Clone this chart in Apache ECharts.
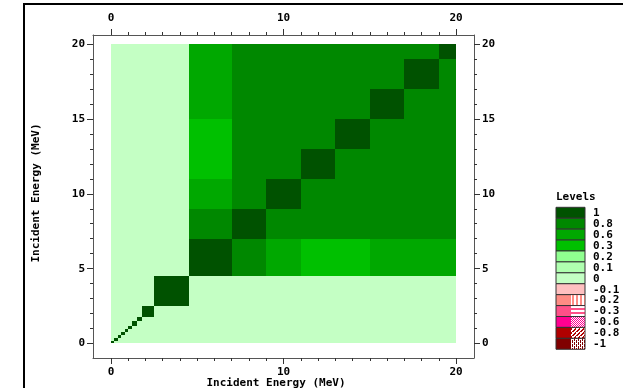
<!DOCTYPE html>
<html><head><meta charset="utf-8">
<script src="https://cdn.jsdelivr.net/npm/echarts@6/dist/echarts.min.js"></script>
<style>html,body{margin:0;padding:0;background:#fff}#c{width:623px;height:388px}</style>
</head><body><div id="c"></div>
<script>
// Energy bin edges (MeV), same for both axes
const energyEdges = [0, 0.2, 0.4, 0.6, 0.8, 1.0, 1.2, 1.5, 1.8, 2.5, 4.5, 7, 9, 11, 13, 15, 17, 19, 20];
// Correlation matrix: rows = y bins (incident energy), cols = x bins
const corrMatrix = [
  [1,0,0,0,0,0,0,0,0,0, 0,0,0,0,0,0,0,0],
  [0,1,0,0,0,0,0,0,0,0, 0,0,0,0,0,0,0,0],
  [0,0,1,0,0,0,0,0,0,0, 0,0,0,0,0,0,0,0],
  [0,0,0,1,0,0,0,0,0,0, 0,0,0,0,0,0,0,0],
  [0,0,0,0,1,0,0,0,0,0, 0,0,0,0,0,0,0,0],
  [0,0,0,0,0,1,0,0,0,0, 0,0,0,0,0,0,0,0],
  [0,0,0,0,0,0,1,0,0,0, 0,0,0,0,0,0,0,0],
  [0,0,0,0,0,0,0,1,0,0, 0,0,0,0,0,0,0,0],
  [0,0,0,0,0,0,0,0,1,0, 0,0,0,0,0,0,0,0],
  [0,0,0,0,0,0,0,0,0,1, 0,0,0,0,0,0,0,0],
  [0,0,0,0,0,0,0,0,0,0, 1,0.85,0.7,0.45,0.45,0.7,0.7,0.7],
  [0,0,0,0,0,0,0,0,0,0, 0.85,1,0.85,0.85,0.85,0.85,0.85,0.85],
  [0,0,0,0,0,0,0,0,0,0, 0.7,0.85,1,0.85,0.85,0.85,0.85,0.85],
  [0,0,0,0,0,0,0,0,0,0, 0.45,0.85,0.85,1,0.85,0.85,0.85,0.85],
  [0,0,0,0,0,0,0,0,0,0, 0.45,0.85,0.85,0.85,1,0.85,0.85,0.85],
  [0,0,0,0,0,0,0,0,0,0, 0.7,0.85,0.85,0.85,0.85,1,0.85,0.85],
  [0,0,0,0,0,0,0,0,0,0, 0.7,0.85,0.85,0.85,0.85,0.85,1,0.85],
  [0,0,0,0,0,0,0,0,0,0, 0.7,0.85,0.85,0.85,0.85,0.85,0.85,1]
];
const xMajorTicks = [0, 10, 20];
const xMinorTicks = [0,1,2,3,4,5,6,7,8,9,10,11,12,13,14,15,16,17,18,19,20];
const yMajorTicks = [0, 5, 10, 15, 20];
const yMinorTicks = [0,1,2,3,4,5,6,7,8,9,10,11,12,13,14,15,16,17,18,19,20];
const axisTitle = 'Incident Energy (MeV)';
const legendTitle = 'Levels';
const levelLabels = ['1','0.8','0.6','0.3','0.2','0.1','0','-0.1','-0.2','-0.3','-0.6','-0.8','-1'];
const levelThresholds = [1, 0.8, 0.6, 0.3, 0.2, 0.1, 0, -0.1, -0.2, -0.3, -0.6, -0.8, -1];
const levelColors = ['#005200','#008800','#00a800','#00c000','#90ff90','#b0ffb0','#c4ffc4','#ffc0c0','#ff8c84','#ff5088','#ff0090','#b00000','#800000'];
const levelHatch = [null,null,null,null,null,null,null,null,'vert','horz','cross','diag','dots'];

const FONT = "'DejaVu Sans Mono', monospace";

function colorFor(v) {
  for (let i = 0; i < levelThresholds.length; i++) {
    if (v >= levelThresholds[i] - 1e-9) return levelColors[i];
  }
  return levelColors[levelColors.length - 1];
}

const cells = [];
for (let r = 0; r < corrMatrix.length; r++) {
  for (let c = 0; c < corrMatrix[r].length; c++) {
    cells.push([energyEdges[c], energyEdges[c + 1], energyEdges[r], energyEdges[r + 1], corrMatrix[r][c]]);
  }
}

function makePattern(kind, color) {
  const cv = document.createElement('canvas');
  cv.width = 4; cv.height = 4;
  const g = cv.getContext('2d');
  g.fillStyle = '#fff'; g.fillRect(0, 0, 4, 4);
  g.fillStyle = color;
  if (kind === 'vert') { g.fillRect(0, 0, 2, 4); }
  else if (kind === 'horz') { g.fillRect(0, 0, 4, 2); }
  else if (kind === 'cross') { g.fillRect(0,0,1,1); g.fillRect(2,0,1,1); g.fillRect(1,1,1,1); g.fillRect(3,1,1,1); g.fillRect(0,2,1,1); g.fillRect(2,2,1,1); g.fillRect(1,3,1,1); g.fillRect(3,3,1,1); }
  else if (kind === 'diag') { for (let i = 0; i < 4; i++) { g.fillRect((3 - i) % 4, i, 2, 1); } }
  else if (kind === 'dots') { g.fillRect(0,0,1,1); g.fillRect(2,0,1,1); g.fillRect(0,2,1,1); g.fillRect(2,2,1,1); g.fillRect(0,1,1,1); g.fillRect(2,3,1,1);}
  return { image: cv, repeat: 'repeat' };
}

const legendGraphics = [];
const LX = 556, LY = 207.3, LW = 29, LH = 10.92;
legendGraphics.push({ type: 'text', x: LX, y: LY - 10.5, style: { text: legendTitle, font: "bold 11px " + FONT, fill: '#000', textVerticalAlign: 'middle' } });
for (let i = 0; i < levelLabels.length; i++) {
  const y = LY + i * LH;
  legendGraphics.push({ type: 'rect', shape: { x: LX, y: y, width: LW, height: LH }, style: { fill: levelColors[i], stroke: '#333', lineWidth: 1 } });
  if (levelHatch[i]) {
    legendGraphics.push({ type: 'rect', shape: { x: LX + 15, y: y + 0.5, width: LW - 15.5, height: LH - 1 }, style: { fill: makePattern(levelHatch[i], levelColors[i]) } });
  }
  legendGraphics.push({ type: 'text', x: LX + 37, y: y + LH / 2 + 0.5, style: { text: levelLabels[i], font: "bold 11px " + FONT, fill: '#000', textVerticalAlign: 'middle' } });
}

const XMIN = -1.043, XMAX = 21.043, YMIN = -0.969, YMAX = 20.608;
const lblStyle = { color: '#000', fontFamily: FONT, fontWeight: 'bold', fontSize: 11 };
function xAx(pos, major) {
  return {
    type: 'value', position: pos, min: XMIN, max: XMAX, gridIndex: 0,
    axisLine: { show: !major, onZero: false, lineStyle: { color: '#555', width: 1 } },
    axisTick: { show: true, customValues: major ? xMajorTicks : xMinorTicks, length: major ? 6 : 3, lineStyle: { color: '#333' } },
    axisLabel: major ? Object.assign({ show: true, customValues: xMajorTicks, margin: pos === 'top' ? 11 : 9 }, lblStyle) : { show: false },
    splitLine: { show: false }
  };
}
function yAx(pos, major) {
  return {
    type: 'value', position: pos, min: YMIN, max: YMAX, gridIndex: 0,
    axisLine: { show: !major, onZero: false, lineStyle: { color: '#555', width: 1 } },
    axisTick: { show: true, customValues: major ? yMajorTicks : yMinorTicks, length: major ? 6 : 3, lineStyle: { color: '#333' } },
    axisLabel: major ? Object.assign({ show: true, customValues: yMajorTicks, margin: 8 }, lblStyle) : { show: false },
    splitLine: { show: false }
  };
}

const chart = echarts.init(document.getElementById('c'), null, { renderer: 'canvas' });
chart.setOption({
  animation: false,
  backgroundColor: '#fff',
  grid: { left: 93, top: 35, width: 381, height: 323, containLabel: false },
  xAxis: [xAx('bottom', false), xAx('bottom', true), xAx('top', false), xAx('top', true)],
  yAxis: [yAx('left', false), yAx('left', true), yAx('right', false), yAx('right', true)],
  series: [{
    type: 'custom', xAxisIndex: 0, yAxisIndex: 0,
    data: cells,
    renderItem: function (params, api) {
      const p0 = api.coord([api.value(0), api.value(2)]);
      const p1 = api.coord([api.value(1), api.value(3)]);
      const x0 = Math.round(p0[0]), x1 = Math.round(p1[0]);
      const yb = Math.round(p0[1]), yt = Math.round(p1[1]);
      return {
        type: 'rect',
        shape: { x: x0, y: yt, width: Math.max(1, x1 - x0), height: Math.max(1, yb - yt) },
        style: { fill: colorFor(api.value(4)), stroke: null }
      };
    }
  }],
  graphic: [
    { type: 'rect', shape: { x: 24, y: 4, width: 700, height: 500 }, style: { fill: 'none', stroke: '#000', lineWidth: 2 }, silent: true },
    { type: 'text', x: 276, y: 383, style: { text: axisTitle, font: "bold 11px " + FONT, fill: '#000', textAlign: 'center', textVerticalAlign: 'middle' } },
    { type: 'text', x: 36, y: 193, rotation: Math.PI / 2, style: { text: axisTitle, font: "bold 11px " + FONT, fill: '#000', textAlign: 'center', textVerticalAlign: 'middle' } }
  ].concat(legendGraphics)
});
</script></body></html>
